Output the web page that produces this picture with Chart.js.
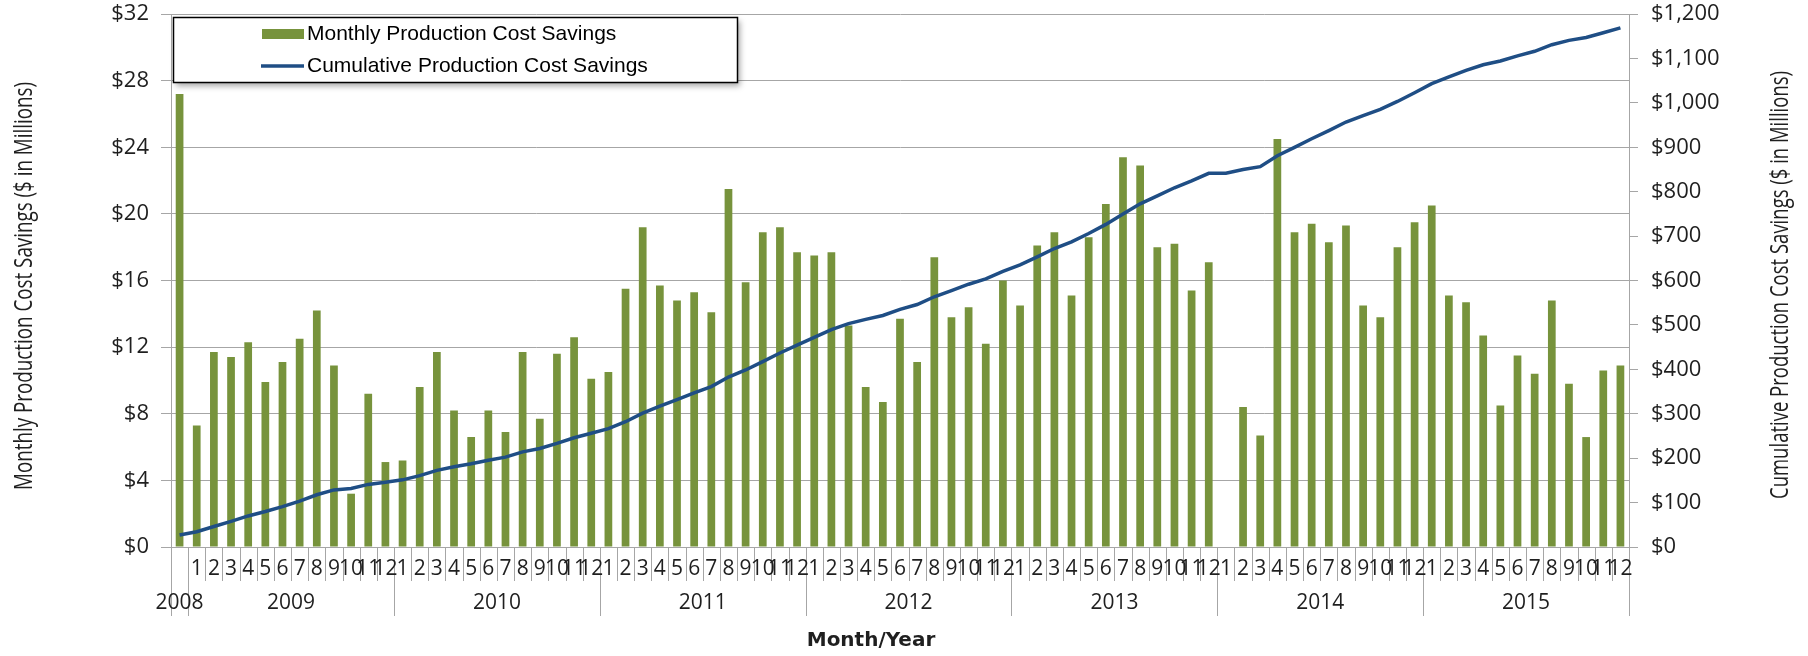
<!DOCTYPE html>
<html>
<head>
<meta charset="utf-8">
<title>Production Cost Savings</title>
<script src="https://cdn.jsdelivr.net/npm/chart.js@4.4.0/dist/chart.umd.min.js"></script>
<style>
  html, body { margin: 0; padding: 0; background: #fff; }
  #wrap { width: 1808px; height: 656px; }
</style>
</head>
<body>
<div id="wrap"><canvas id="myChart" width="1808" height="656"></canvas></div>
<script>
// Etiquetas de años (segundo nivel del eje X)
const years = ["2008", "2009", "2010", "2011", "2012", "2013", "2014", "2015"];
// Etiquetas de meses (primer nivel del eje X); 2008 solo tiene diciembre, sin etiqueta
const months2008 = [""];
const months = ["1", "2", "3", "4", "5", "6", "7", "8", "9", "10", "11", "12"];

// Ahorro mensual en costes de producción ($ millones)
const monthly2008 = [27.2];
const monthly2009 = [7.3, 11.7, 11.4, 12.3, 9.9, 11.1, 12.5, 14.2, 10.9, 3.2, 9.2, 5.1];
const monthly2010 = [5.2, 9.6, 11.7, 8.2, 6.6, 8.2, 6.9, 11.7, 7.7, 11.6, 12.6, 10.1];
const monthly2011 = [10.5, 15.5, 19.2, 15.7, 14.8, 15.3, 14.1, 21.5, 15.9, 18.9, 19.2, 17.7];
const monthly2012 = [17.5, 17.7, 13.3, 9.6, 8.7, 13.7, 11.1, 17.4, 13.8, 14.4, 12.2, 16.0];
const monthly2013 = [14.5, 18.1, 18.9, 15.1, 18.6, 20.6, 23.4, 22.9, 18.0, 18.2, 15.4, 17.1];
const monthly2014 = [null, 8.4, 6.7, 24.5, 18.9, 19.4, 18.3, 19.3, 14.5, 13.8, 18.0, 19.5];
const monthly2015 = [20.5, 15.1, 14.7, 12.7, 8.5, 11.5, 10.4, 14.8, 9.8, 6.6, 10.6, 10.9];

// Ahorro acumulado ($ millones)
const cumulative2008 = [27.2];
const cumulative2009 = [34.5, 46.2, 57.6, 69.9, 79.8, 90.9, 103.4, 117.6, 128.5, 131.7, 140.9, 146.0];
const cumulative2010 = [151.2, 160.8, 172.5, 180.7, 187.3, 195.5, 202.4, 214.1, 221.8, 233.4, 246.0, 256.1];
const cumulative2011 = [266.6, 282.1, 301.3, 317.0, 331.8, 347.1, 361.2, 382.7, 398.6, 417.5, 436.7, 454.4];
const cumulative2012 = [471.9, 489.6, 502.9, 512.5, 521.2, 534.9, 546.0, 563.4, 577.2, 591.6, 603.8, 620.5];
const cumulative2013 = [635.0, 653.1, 672.0, 687.1, 705.7, 726.3, 749.7, 772.6, 790.6, 808.8, 824.2, 841.3];
const cumulative2014 = [841.3, 849.7, 856.4, 880.9, 899.8, 919.2, 937.5, 956.8, 971.3, 985.1, 1003.1, 1022.6];
const cumulative2015 = [1043.1, 1058.2, 1072.9, 1085.6, 1094.1, 1105.6, 1116.0, 1130.8, 1140.6, 1147.2, 1157.8, 1168.7];

const monthlyByYear = [monthly2008, monthly2009, monthly2010, monthly2011, monthly2012, monthly2013, monthly2014, monthly2015];
const cumulativeByYear = [cumulative2008, cumulative2009, cumulative2010, cumulative2011, cumulative2012, cumulative2013, cumulative2014, cumulative2015];

const gridColor = "#A6A6A6";
const textColor = "#1f1f1f";
const barColor = "#77933C";
const lineColor = "#1F4E85";

document.addEventListener("DOMContentLoaded", function () {
  // Construye las categorías (una por mes) a partir de las listas por año
  const monthLabels = [];
  const yearOf = [];
  monthlyByYear.forEach((arr, k) => {
    arr.forEach((_, j) => {
      monthLabels.push(k === 0 ? months2008[j] : months[j]);
      yearOf.push(years[k]);
    });
  });
  const labels = monthLabels.map((m, i) => yearOf[i] + "/" + m);

  // Eje X de dos niveles: meses, años y separadores
  const ejeMesAno = {
    id: "ejeMesAno",
    afterDraw(chart) {
      const ctx = chart.ctx;
      const x = chart.scales.x;
      const area = chart.chartArea;
      const n = monthLabels.length;
      ctx.save();
      ctx.strokeStyle = gridColor;
      ctx.lineWidth = 1;
      for (let b = 0; b <= n; b++) {
        const px = Math.round(x.getPixelForValue(b - 0.5)) + 0.5;
        const esAno = b === 0 || b === n || yearOf[b] !== yearOf[b - 1];
        ctx.beginPath();
        ctx.moveTo(px, area.bottom);
        ctx.lineTo(px, area.bottom + (esAno ? 69 : 34));
        ctx.stroke();
      }
      ctx.fillStyle = textColor;
      ctx.textAlign = "center";
      ctx.textBaseline = "middle";
      ctx.font = "21px 'Open Sans'";
      monthLabels.forEach((m, i) => {
        ctx.fillText(m, x.getPixelForValue(i), area.bottom + 22);
      });
      let start = 0;
      monthlyByYear.forEach((arr, k) => {
        const centro = x.getPixelForValue(start + arr.length / 2 - 0.5);
        ctx.fillText(years[k], centro, area.bottom + 56);
        start += arr.length;
      });
      // Título del eje X
      ctx.font = "bold 20px 'DejaVu Sans'";
      ctx.fillText("Month/Year", 871, area.bottom + 94);
      ctx.restore();

      // Títulos verticales (letra estrecha)
      tituloVertical(ctx, "Monthly Production Cost Savings ($ in Millions)", 25, 286, 408);
      tituloVertical(ctx, "Cumulative Production Cost Savings ($ in Millions)", 1781, 285, 428);
    },
  };

  function tituloVertical(ctx, text, cx, cy, largo) {
    ctx.save();
    ctx.translate(cx, cy);
    ctx.rotate(-Math.PI / 2);
    ctx.font = "26px 'Open Sans'";
    const w = ctx.measureText(text).width;
    ctx.scale(largo / w, 1);
    ctx.fillStyle = textColor;
    ctx.textAlign = "center";
    ctx.textBaseline = "middle";
    ctx.fillText(text, 0, 0);
    ctx.restore();
  }

  // Leyenda con marco y sombra, dentro del área del gráfico
  const leyenda = {
    id: "leyenda",
    afterDraw(chart) {
      const ctx = chart.ctx;
      const barras = chart.data.datasets.find((d) => d.type === "bar");
      const linea = chart.data.datasets.find((d) => d.type === "line");
      ctx.save();
      ctx.shadowColor = "rgba(0,0,0,0.35)";
      ctx.shadowOffsetX = 3;
      ctx.shadowOffsetY = 4;
      ctx.shadowBlur = 6;
      ctx.fillStyle = "#fff";
      ctx.fillRect(173, 17, 564, 65);
      ctx.shadowColor = "transparent";
      ctx.strokeStyle = "#000";
      ctx.lineWidth = 1.5;
      ctx.strokeRect(173.5, 17.5, 564, 65);

      ctx.fillStyle = barras.backgroundColor;
      ctx.fillRect(262, 29, 42, 10);
      ctx.strokeStyle = linea.borderColor;
      ctx.lineWidth = 3.5;
      ctx.beginPath();
      ctx.moveTo(261, 66);
      ctx.lineTo(304, 66);
      ctx.stroke();

      ctx.fillStyle = "#000";
      ctx.font = "21px 'Liberation Sans'";
      ctx.textBaseline = "middle";
      ctx.textAlign = "left";
      ctx.fillText(barras.label, 307, 34);
      ctx.fillText(linea.label, 307, 66);
      ctx.restore();
    },
  };

  const ctx = document.getElementById("myChart").getContext("2d");
  new Chart(ctx, {
    data: {
      labels: labels,
      datasets: [
        {
          type: "line",
          label: "Cumulative Production Cost Savings",
          data: [].concat(...cumulativeByYear),
          yAxisID: "y1",
          borderColor: lineColor,
          borderWidth: 3.5,
          pointRadius: 0,
          tension: 0,
          order: 1,
        },
        {
          type: "bar",
          label: "Monthly Production Cost Savings",
          data: [].concat(...monthlyByYear),
          yAxisID: "y",
          backgroundColor: barColor,
          barPercentage: 0.45,
          categoryPercentage: 1,
          order: 2,
        },
      ],
    },
    options: {
      responsive: false,
      animation: false,
      layout: { padding: { top: 14, left: 0, right: 0, bottom: 0 } },
      plugins: {
        legend: { display: false },
        tooltip: { enabled: false },
      },
      scales: {
        x: {
          ticks: { display: false },
          grid: { display: false },
          border: { display: true, color: gridColor },
          afterFit(s) {
            s.height = 109;
            s.paddingLeft = 0;
            s.paddingRight = 0;
          },
        },
        y: {
          position: "left",
          min: 0,
          max: 32,
          ticks: {
            stepSize: 4,
            padding: 12,
            color: textColor,
            font: { family: "'Open Sans'", size: 22 },
            callback: (v) => "$" + v,
          },
          grid: { color: gridColor, tickLength: 10 },
          border: { color: gridColor },
          afterFit(s) {
            s.width = 171;
            s.paddingTop = 0;
            s.paddingBottom = 0;
          },
        },
        y1: {
          position: "right",
          min: 0,
          max: 1200,
          ticks: {
            stepSize: 100,
            padding: 13,
            color: textColor,
            font: { family: "'Open Sans'", size: 22 },
            callback: (v) => "$" + v.toLocaleString("en-US"),
          },
          grid: { drawOnChartArea: false, color: gridColor, tickLength: 9 },
          border: { color: gridColor },
          afterFit(s) {
            s.width = 179;
            s.paddingTop = 0;
            s.paddingBottom = 0;
          },
        },
      },
    },
    plugins: [ejeMesAno, leyenda],
  });
});
</script>
</body>
</html>
